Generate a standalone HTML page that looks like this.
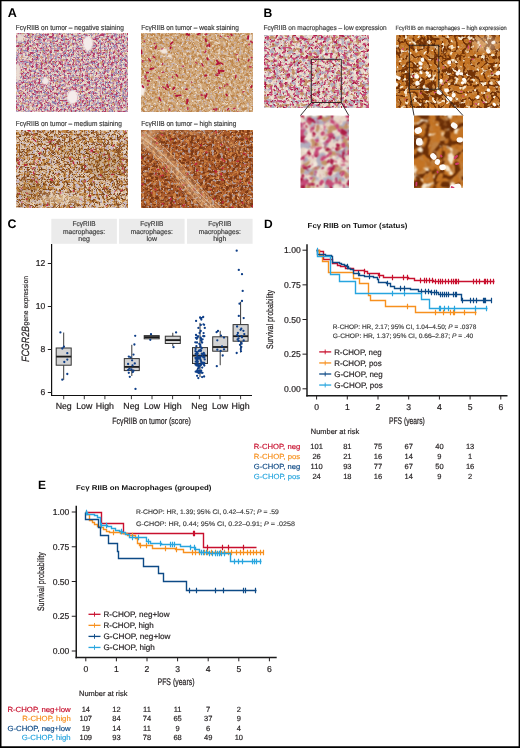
<!DOCTYPE html><html><head><meta charset="utf-8"><style>html,body{margin:0;padding:0;background:#fff}#p{position:relative;width:520px;height:748px;overflow:hidden;background:#fff}svg text{font-family:'Liberation Sans', Arial, sans-serif;text-rendering:geometricPrecision}</style></head><body><div id="p"><svg width="520" height="748" viewBox="0 0 520 748" style="position:absolute;left:0;top:0"><defs><filter id="blur20" x="-5%" y="-5%" width="110%" height="110%"><feGaussianBlur stdDeviation="0.2"/></filter><filter id="blur30" x="-5%" y="-5%" width="110%" height="110%"><feGaussianBlur stdDeviation="0.3"/></filter><filter id="blur35" x="-5%" y="-5%" width="110%" height="110%"><feGaussianBlur stdDeviation="0.35"/></filter><filter id="blur40" x="-5%" y="-5%" width="110%" height="110%"><feGaussianBlur stdDeviation="0.4"/></filter><filter id="blur50" x="-5%" y="-5%" width="110%" height="110%"><feGaussianBlur stdDeviation="0.5"/></filter><filter id="blur60" x="-5%" y="-5%" width="110%" height="110%"><feGaussianBlur stdDeviation="0.6"/></filter><filter id="blur100" x="-5%" y="-5%" width="110%" height="110%"><feGaussianBlur stdDeviation="1.0"/></filter><filter id="blur200" x="-5%" y="-5%" width="110%" height="110%"><feGaussianBlur stdDeviation="2.0"/></filter><filter id="sat70" color-interpolation-filters="sRGB"><feColorMatrix type="saturate" values="0.7"/></filter><filter id="sat75" color-interpolation-filters="sRGB"><feColorMatrix type="saturate" values="0.75"/></filter><filter id="sat80" color-interpolation-filters="sRGB"><feColorMatrix type="saturate" values="0.8"/></filter><filter id="sat85" color-interpolation-filters="sRGB"><feColorMatrix type="saturate" values="0.85"/></filter><filter id="sat90" color-interpolation-filters="sRGB"><feColorMatrix type="saturate" values="0.9"/></filter><filter id="sat95" color-interpolation-filters="sRGB"><feColorMatrix type="saturate" values="0.95"/></filter><filter id="sat100" color-interpolation-filters="sRGB"><feColorMatrix type="saturate" values="1.0"/></filter><filter id="soft" x="-5%" y="-5%" width="110%" height="110%"><feConvolveMatrix order="3" kernelMatrix="1 2 1 2 4 2 1 2 1" divisor="16" edgeMode="none"/></filter><filter id="tf1" filterUnits="userSpaceOnUse" x="16" y="33" width="112" height="79" color-interpolation-filters="sRGB"><feTurbulence type="fractalNoise" baseFrequency="0.4" numOctaves="2" seed="11"/><feColorMatrix type="matrix" values="0 0 0 0 0.667 0 0 0 0 0.627 0 0 0 0 0.784 7 0 0 0 -3.45"/></filter><filter id="tf2" filterUnits="userSpaceOnUse" x="16" y="33" width="112" height="79" color-interpolation-filters="sRGB"><feTurbulence type="fractalNoise" baseFrequency="0.44" numOctaves="2" seed="12"/><feColorMatrix type="matrix" values="0 0 0 0 0.514 0 0 0 0 0.482 0 0 0 0 0.698 7 0 0 0 -3.85"/></filter><filter id="tf3" filterUnits="userSpaceOnUse" x="16" y="33" width="112" height="79" color-interpolation-filters="sRGB"><feTurbulence type="fractalNoise" baseFrequency="0.4" numOctaves="2" seed="13"/><feColorMatrix type="matrix" values="0 0 0 0 0.863 0 0 0 0 0.541 0 0 0 0 0.651 7 0 0 0 -3.8"/></filter><filter id="tf4" filterUnits="userSpaceOnUse" x="16" y="33" width="112" height="79" color-interpolation-filters="sRGB"><feTurbulence type="fractalNoise" baseFrequency="0.44" numOctaves="2" seed="14"/><feColorMatrix type="matrix" values="0 0 0 0 0.769 0 0 0 0 0.204 0 0 0 0 0.400 8 0 0 0 -4.35"/></filter><filter id="tf5" filterUnits="userSpaceOnUse" x="16" y="33" width="112" height="79" color-interpolation-filters="sRGB"><feTurbulence type="fractalNoise" baseFrequency="0.34" numOctaves="2" seed="15"/><feColorMatrix type="matrix" values="0 0 0 0 0.831 0 0 0 0 0.627 0 0 0 0 0.439 7 0 0 0 -4.2"/></filter><filter id="tf6" filterUnits="userSpaceOnUse" x="141" y="33" width="112" height="79" color-interpolation-filters="sRGB"><feTurbulence type="fractalNoise" baseFrequency="0.34" numOctaves="2" seed="21"/><feColorMatrix type="matrix" values="0 0 0 0 0.878 0 0 0 0 0.753 0 0 0 0 0.612 7 0 0 0 -3.5"/></filter><filter id="tf7" filterUnits="userSpaceOnUse" x="141" y="33" width="112" height="79" color-interpolation-filters="sRGB"><feTurbulence type="fractalNoise" baseFrequency="0.38" numOctaves="2" seed="22"/><feColorMatrix type="matrix" values="0 0 0 0 0.761 0 0 0 0 0.518 0 0 0 0 0.267 7 0 0 0 -3.4"/></filter><filter id="tf8" filterUnits="userSpaceOnUse" x="141" y="33" width="112" height="79" color-interpolation-filters="sRGB"><feTurbulence type="fractalNoise" baseFrequency="0.38" numOctaves="2" seed="23"/><feColorMatrix type="matrix" values="0 0 0 0 0.784 0 0 0 0 0.706 0 0 0 0 0.706 7 0 0 0 -4.1"/></filter><filter id="tf9" filterUnits="userSpaceOnUse" x="141" y="33" width="112" height="79" color-interpolation-filters="sRGB"><feTurbulence type="fractalNoise" baseFrequency="0.38" numOctaves="2" seed="24"/><feColorMatrix type="matrix" values="0 0 0 0 0.937 0 0 0 0 0.863 0 0 0 0 0.776 8 0 0 0 -5.0"/></filter><filter id="tf10" filterUnits="userSpaceOnUse" x="16" y="130" width="112" height="78" color-interpolation-filters="sRGB"><feTurbulence type="fractalNoise" baseFrequency="0.36" numOctaves="2" seed="32"/><feColorMatrix type="matrix" values="0 0 0 0 0.761 0 0 0 0 0.714 0 0 0 0 0.800 7 0 0 0 -3.4"/></filter><filter id="tf11" filterUnits="userSpaceOnUse" x="16" y="130" width="112" height="78" color-interpolation-filters="sRGB"><feTurbulence type="fractalNoise" baseFrequency="0.34" numOctaves="2" seed="31"/><feColorMatrix type="matrix" values="0 0 0 0 0.933 0 0 0 0 0.847 0 0 0 0 0.722 7 0 0 0 -3.9"/></filter><filter id="tf12" filterUnits="userSpaceOnUse" x="16" y="130" width="112" height="78" color-interpolation-filters="sRGB"><feTurbulence type="fractalNoise" baseFrequency="0.3" numOctaves="3" seed="33"/><feColorMatrix type="matrix" values="0 0 0 0 0.769 0 0 0 0 0.525 0 0 0 0 0.243 7 0 0 0 -3.5"/></filter><filter id="tf13" filterUnits="userSpaceOnUse" x="16" y="130" width="112" height="78" color-interpolation-filters="sRGB"><feTurbulence type="turbulence" baseFrequency="0.2" numOctaves="2" seed="38"/><feColorMatrix type="matrix" values="0 0 0 0 0.549 0 0 0 0 0.298 0 0 0 0 0.102 -10 0 0 0 1.7"/></filter><filter id="tf14" filterUnits="userSpaceOnUse" x="16" y="130" width="112" height="78" color-interpolation-filters="sRGB"><feTurbulence type="fractalNoise" baseFrequency="0.38" numOctaves="2" seed="36"/><feColorMatrix type="matrix" values="0 0 0 0 0.584 0 0 0 0 0.337 0 0 0 0 0.149 8 0 0 0 -4.9"/></filter><filter id="tf15" filterUnits="userSpaceOnUse" x="16" y="130" width="112" height="78" color-interpolation-filters="sRGB"><feTurbulence type="fractalNoise" baseFrequency="0.42" numOctaves="2" seed="34"/><feColorMatrix type="matrix" values="0 0 0 0 0.424 0 0 0 0 0.227 0 0 0 0 0.063 9 0 0 0 -5.8"/></filter><filter id="tf16" filterUnits="userSpaceOnUse" x="141" y="130" width="112" height="78" color-interpolation-filters="sRGB"><feTurbulence type="fractalNoise" baseFrequency="0.3" numOctaves="2" seed="41"/><feColorMatrix type="matrix" values="0 0 0 0 0.800 0 0 0 0 0.502 0 0 0 0 0.251 7 0 0 0 -3.4"/></filter><filter id="tf17" filterUnits="userSpaceOnUse" x="141" y="130" width="112" height="78" color-interpolation-filters="sRGB"><feTurbulence type="fractalNoise" baseFrequency="0.34" numOctaves="2" seed="42"/><feColorMatrix type="matrix" values="0 0 0 0 0.486 0 0 0 0 0.220 0 0 0 0 0.078 7 0 0 0 -3.3"/></filter><filter id="tf18" filterUnits="userSpaceOnUse" x="141" y="130" width="112" height="78" color-interpolation-filters="sRGB"><feTurbulence type="fractalNoise" baseFrequency="0.34" numOctaves="2" seed="43"/><feColorMatrix type="matrix" values="0 0 0 0 0.690 0 0 0 0 0.604 0 0 0 0 0.596 8 0 0 0 -4.6"/></filter><filter id="tf19" filterUnits="userSpaceOnUse" x="141" y="130" width="112" height="78" color-interpolation-filters="sRGB"><feTurbulence type="fractalNoise" baseFrequency="0.4" numOctaves="2" seed="45"/><feColorMatrix type="matrix" values="0 0 0 0 0.910 0 0 0 0 0.690 0 0 0 0 0.502 8 0 0 0 -5.3"/></filter><filter id="tf20" filterUnits="userSpaceOnUse" x="264" y="35" width="105" height="73" color-interpolation-filters="sRGB"><feTurbulence type="fractalNoise" baseFrequency="0.3" numOctaves="2" seed="51"/><feColorMatrix type="matrix" values="0 0 0 0 0.953 0 0 0 0 0.906 0 0 0 0 0.855 6 0 0 0 -3.0"/></filter><filter id="tf21" filterUnits="userSpaceOnUse" x="264" y="35" width="105" height="73" color-interpolation-filters="sRGB"><feTurbulence type="fractalNoise" baseFrequency="0.24" numOctaves="2" seed="52"/><feColorMatrix type="matrix" values="0 0 0 0 0.698 0 0 0 0 0.682 0 0 0 0 0.761 8 0 0 0 -3.95"/></filter><filter id="tf22" filterUnits="userSpaceOnUse" x="264" y="35" width="105" height="73" color-interpolation-filters="sRGB"><feTurbulence type="fractalNoise" baseFrequency="0.25" numOctaves="2" seed="53"/><feColorMatrix type="matrix" values="0 0 0 0 0.788 0 0 0 0 0.573 0 0 0 0 0.376 8 0 0 0 -4.35"/></filter><filter id="tf23" filterUnits="userSpaceOnUse" x="264" y="35" width="105" height="73" color-interpolation-filters="sRGB"><feTurbulence type="fractalNoise" baseFrequency="0.3" numOctaves="2" seed="54"/><feColorMatrix type="matrix" values="0 0 0 0 0.847 0 0 0 0 0.267 0 0 0 0 0.478 8 0 0 0 -4.45"/></filter><filter id="tf24" filterUnits="userSpaceOnUse" x="264" y="35" width="105" height="73" color-interpolation-filters="sRGB"><feTurbulence type="fractalNoise" baseFrequency="0.34" numOctaves="2" seed="55"/><feColorMatrix type="matrix" values="0 0 0 0 0.753 0 0 0 0 0.086 0 0 0 0 0.290 9 0 0 0 -5.5"/></filter><filter id="tf25" filterUnits="userSpaceOnUse" x="396" y="35" width="104" height="73" color-interpolation-filters="sRGB"><feTurbulence type="fractalNoise" baseFrequency="0.2" numOctaves="2" seed="61"/><feColorMatrix type="matrix" values="0 0 0 0 0.769 0 0 0 0 0.455 0 0 0 0 0.141 7 0 0 0 -2.7"/></filter><filter id="tf26" filterUnits="userSpaceOnUse" x="396" y="35" width="104" height="73" color-interpolation-filters="sRGB"><feTurbulence type="fractalNoise" baseFrequency="0.3" numOctaves="2" seed="66"/><feColorMatrix type="matrix" values="0 0 0 0 0.722 0 0 0 0 0.416 0 0 0 0 0.125 8 0 0 0 -4.6"/></filter><filter id="tf27" filterUnits="userSpaceOnUse" x="396" y="35" width="104" height="73" color-interpolation-filters="sRGB"><feTurbulence type="turbulence" baseFrequency="0.14" numOctaves="2" seed="62"/><feColorMatrix type="matrix" values="0 0 0 0 0.447 0 0 0 0 0.196 0 0 0 0 0.024 -10 0 0 0 2.35"/></filter><filter id="tf28" filterUnits="userSpaceOnUse" x="396" y="35" width="104" height="73" color-interpolation-filters="sRGB"><feTurbulence type="fractalNoise" baseFrequency="0.22" numOctaves="2" seed="63"/><feColorMatrix type="matrix" values="0 0 0 0 0.965 0 0 0 0 0.902 0 0 0 0 0.800 8 0 0 0 -4.8"/></filter><filter id="tf29" filterUnits="userSpaceOnUse" x="300.5" y="115.5" width="48.5" height="72.5" color-interpolation-filters="sRGB"><feTurbulence type="fractalNoise" baseFrequency="0.15" numOctaves="2" seed="71"/><feColorMatrix type="matrix" values="0 0 0 0 0.953 0 0 0 0 0.906 0 0 0 0 0.855 6 0 0 0 -3.0"/><feConvolveMatrix order="3" kernelMatrix="1 2 1 2 4 2 1 2 1" divisor="16" edgeMode="duplicate"/></filter><filter id="tf30" filterUnits="userSpaceOnUse" x="300.5" y="115.5" width="48.5" height="72.5" color-interpolation-filters="sRGB"><feTurbulence type="fractalNoise" baseFrequency="0.12" numOctaves="2" seed="72"/><feColorMatrix type="matrix" values="0 0 0 0 0.698 0 0 0 0 0.682 0 0 0 0 0.761 8 0 0 0 -3.9"/><feConvolveMatrix order="3" kernelMatrix="1 2 1 2 4 2 1 2 1" divisor="16" edgeMode="duplicate"/></filter><filter id="tf31" filterUnits="userSpaceOnUse" x="300.5" y="115.5" width="48.5" height="72.5" color-interpolation-filters="sRGB"><feTurbulence type="fractalNoise" baseFrequency="0.12" numOctaves="2" seed="73"/><feColorMatrix type="matrix" values="0 0 0 0 0.788 0 0 0 0 0.573 0 0 0 0 0.376 8 0 0 0 -4.35"/><feConvolveMatrix order="3" kernelMatrix="1 2 1 2 4 2 1 2 1" divisor="16" edgeMode="duplicate"/></filter><filter id="tf32" filterUnits="userSpaceOnUse" x="300.5" y="115.5" width="48.5" height="72.5" color-interpolation-filters="sRGB"><feTurbulence type="fractalNoise" baseFrequency="0.15" numOctaves="2" seed="74"/><feColorMatrix type="matrix" values="0 0 0 0 0.847 0 0 0 0 0.267 0 0 0 0 0.478 8 0 0 0 -4.35"/><feConvolveMatrix order="3" kernelMatrix="1 2 1 2 4 2 1 2 1" divisor="16" edgeMode="duplicate"/></filter><filter id="tf33" filterUnits="userSpaceOnUse" x="300.5" y="115.5" width="48.5" height="72.5" color-interpolation-filters="sRGB"><feTurbulence type="fractalNoise" baseFrequency="0.17" numOctaves="2" seed="75"/><feColorMatrix type="matrix" values="0 0 0 0 0.745 0 0 0 0 0.086 0 0 0 0 0.282 9 0 0 0 -5.4"/><feConvolveMatrix order="3" kernelMatrix="1 2 1 2 4 2 1 2 1" divisor="16" edgeMode="duplicate"/></filter><filter id="tf34" filterUnits="userSpaceOnUse" x="414" y="115.5" width="49" height="72.5" color-interpolation-filters="sRGB"><feTurbulence type="fractalNoise" baseFrequency="0.1" numOctaves="2" seed="81"/><feColorMatrix type="matrix" values="0 0 0 0 0.769 0 0 0 0 0.455 0 0 0 0 0.141 7 0 0 0 -2.7"/><feConvolveMatrix order="3" kernelMatrix="1 2 1 2 4 2 1 2 1" divisor="16" edgeMode="duplicate"/></filter><filter id="tf35" filterUnits="userSpaceOnUse" x="414" y="115.5" width="49" height="72.5" color-interpolation-filters="sRGB"><feTurbulence type="fractalNoise" baseFrequency="0.15" numOctaves="2" seed="86"/><feColorMatrix type="matrix" values="0 0 0 0 0.722 0 0 0 0 0.416 0 0 0 0 0.125 8 0 0 0 -4.6"/><feConvolveMatrix order="3" kernelMatrix="1 2 1 2 4 2 1 2 1" divisor="16" edgeMode="duplicate"/></filter><filter id="tf36" filterUnits="userSpaceOnUse" x="414" y="115.5" width="49" height="72.5" color-interpolation-filters="sRGB"><feTurbulence type="turbulence" baseFrequency="0.07" numOctaves="2" seed="82"/><feColorMatrix type="matrix" values="0 0 0 0 0.416 0 0 0 0 0.180 0 0 0 0 0.024 -10 0 0 0 2.5"/><feConvolveMatrix order="3" kernelMatrix="1 2 1 2 4 2 1 2 1" divisor="16" edgeMode="duplicate"/></filter><filter id="tf37" filterUnits="userSpaceOnUse" x="414" y="115.5" width="49" height="72.5" color-interpolation-filters="sRGB"><feTurbulence type="fractalNoise" baseFrequency="0.11" numOctaves="2" seed="83"/><feColorMatrix type="matrix" values="0 0 0 0 0.965 0 0 0 0 0.902 0 0 0 0 0.800 8 0 0 0 -4.8"/><feConvolveMatrix order="3" kernelMatrix="1 2 1 2 4 2 1 2 1" divisor="16" edgeMode="duplicate"/></filter></defs><clipPath id="ca1"><rect x="16" y="33" width="112" height="79"/></clipPath><g clip-path="url(#ca1)"><g filter="url(#sat85)"><rect x="16" y="33" width="112" height="79" fill="#efd8c4"/><rect x="16" y="33" width="112" height="79" filter="url(#tf1)"/><rect x="16" y="33" width="112" height="79" filter="url(#tf2)"/><rect x="16" y="33" width="112" height="79" filter="url(#tf3)"/><rect x="16" y="33" width="112" height="79" filter="url(#tf4)"/><rect x="16" y="33" width="112" height="79" filter="url(#tf5)"/><g filter="url(#soft)"><ellipse cx="88" cy="43.5" rx="5" ry="7.5" fill="#f6ecea"/><ellipse cx="45.5" cy="81" rx="3.5" ry="3.5" fill="#f4eae8"/><ellipse cx="72.5" cy="97" rx="5.5" ry="7" fill="#f6ecea"/><ellipse cx="20" cy="38" rx="3" ry="4" fill="#ecdcd0"/><ellipse cx="18" cy="72" rx="2.5" ry="9" fill="#ecdcd0"/></g></g></g><clipPath id="ca2"><rect x="141" y="33" width="112" height="79"/></clipPath><g clip-path="url(#ca2)"><g filter="url(#sat90)"><rect x="141" y="33" width="112" height="79" fill="#d4a572"/><rect x="141" y="33" width="112" height="79" filter="url(#tf6)"/><rect x="141" y="33" width="112" height="79" filter="url(#tf7)"/><rect x="141" y="33" width="112" height="79" filter="url(#tf8)"/><rect x="141" y="33" width="112" height="79" filter="url(#tf9)"/><g filter="url(#soft)"><ellipse cx="142" cy="90" rx="3" ry="6" fill="#f6eee6"/><ellipse cx="164" cy="51" rx="3.5" ry="3" fill="#f2e6dc"/><ellipse cx="250" cy="38" rx="2" ry="3" fill="#f0e4d8"/><ellipse cx="170" cy="56" rx="2" ry="2" fill="#eee0d4"/></g><path d="M148.5 58.7l1.9 2.3M228.7 108.4l-1.5 1.7M189.6 34.6l-3.2 0.1M153.1 56.3l1.9 1.6M216.4 108.9l-2.9 0.4" stroke="#be0f3a" stroke-width="1.3" stroke-linecap="round" fill="none"/><path d="M165.1 87.9l1.0 1.4M159.1 97.6l1.6 2.9M208.1 45.1l-1.2 1.2M201.9 63.7l1.2 2.4M235.9 75.2l-0.2 2.5M220.2 62.8l2.6 1.3M215.6 74.9l2.2 0.7M186.7 33.1l2.2 2.4" stroke="#be0f3a" stroke-width="1.4" stroke-linecap="round" fill="none"/><path d="M249.0 59.9l-0.7 1.0M231.1 34.1l0.8 1.4M205.1 95.5l0.4 2.5" stroke="#be0f3a" stroke-width="1.5" stroke-linecap="round" fill="none"/><path d="M187.0 89.1l-1.1 0.1M206.8 93.9l-0.7 2.4M199.7 33.5l-2.2 0.9M141.3 50.3l0.4 3.2M180.8 95.2l-3.5 0.6M176.2 74.5l1.2 1.7M147.4 80.7l1.9 0.4M156.2 46.0l-0.9 2.4" stroke="#be0f3a" stroke-width="1.6" stroke-linecap="round" fill="none"/><path d="M209.3 44.0l0.2 2.4M251.8 85.9l-0.7 1.5M148.2 72.6l-1.5 0.1M172.6 42.2l-1.9 1.8M187.7 100.7l-0.9 2.7" stroke="#be0f3a" stroke-width="1.7" stroke-linecap="round" fill="none"/><path d="M218.7 70.1l0.5 3.2M170.9 47.3l-0.6 1.0M205.5 39.2l0.7 2.3M226.3 94.5l0.8 1.1M207.3 58.2l0.7 1.4M175.9 95.9l1.3 0.1M174.4 87.5l-1.2 1.8M142.5 85.9l0.9 1.4M219.3 63.4l-2.8 0.9M167.2 84.7l1.0 2.7" stroke="#be0f3a" stroke-width="1.8" stroke-linecap="round" fill="none"/><path d="M206.4 75.2l-1.4 0.6M248.3 36.2l-0.3 2.6M153.5 68.3l-3.2 0.9M216.8 60.5l1.8 2.7" stroke="#be0f3a" stroke-width="1.9" stroke-linecap="round" fill="none"/><path d="M187.3 99.6l-0.0 1.7M220.3 70.7l3.3 0.2" stroke="#be0f3a" stroke-width="2.0" stroke-linecap="round" fill="none"/><path d="M237.5 54.4l-1.9 0.6" stroke="#c82452" stroke-width="1.0" stroke-linecap="round" fill="none"/><path d="M238.3 58.8l0.2 1.8M220.3 35.9l1.0 1.0M227.3 36.1l1.8 1.1M155.0 43.1l-0.8 0.6M237.9 111.8l0.3 0.7M191.8 82.0l-0.1 0.7M195.6 62.3l1.3 0.9M162.7 48.7l-1.3 0.3M244.1 91.6l-1.4 0.7" stroke="#c82452" stroke-width="1.1" stroke-linecap="round" fill="none"/><path d="M226.6 83.9l1.4 1.0M158.7 76.9l1.0 1.9M216.9 108.7l-1.0 1.9M167.2 85.6l-0.2 0.7M218.7 73.2l-1.4 0.6M201.2 94.2l0.5 1.4M182.1 66.0l1.5 0.3M202.9 95.2l-1.8 0.1M174.7 93.5l0.7 0.3M146.5 78.2l-0.5 0.7M172.8 76.7l-0.6 0.9M225.1 85.4l-0.7 1.0" stroke="#c82452" stroke-width="1.2" stroke-linecap="round" fill="none"/><path d="M163.6 72.0l-1.3 0.6M251.1 57.3l0.9 0.6M162.8 63.3l-0.3 1.2M155.4 47.6l0.7 0.3M142.7 60.4l0.2 1.6M144.0 41.0l0.6 0.3M187.8 107.4l-0.0 2.0M169.1 109.0l0.8 1.1M235.2 108.1l-1.8 0.7" stroke="#c82452" stroke-width="1.3" stroke-linecap="round" fill="none"/><path d="M249.6 66.8l1.5 0.2M162.8 86.8l1.1 0.8M145.1 75.7l0.0 1.9M219.5 87.6l0.6 0.8" stroke="#c82452" stroke-width="1.4" stroke-linecap="round" fill="none"/><path d="M206.8 34.2l-1.3 0.1M250.7 41.3l1.7 1.0M147.9 84.5l0.0 0.7M205.8 51.0l-0.9 1.4M248.9 44.1l0.2 0.7" stroke="#c82452" stroke-width="1.5" stroke-linecap="round" fill="none"/></g></g><clipPath id="ca3"><rect x="16" y="130" width="112" height="78"/></clipPath><g clip-path="url(#ca3)"><g filter="url(#sat95)"><rect x="16" y="130" width="112" height="78" fill="#dec8b2"/><rect x="16" y="130" width="112" height="78" filter="url(#tf10)"/><rect x="16" y="130" width="112" height="78" filter="url(#tf11)"/><rect x="16" y="130" width="112" height="78" filter="url(#tf12)"/><rect x="16" y="130" width="112" height="78" filter="url(#tf13)"/><rect x="16" y="130" width="112" height="78" filter="url(#tf14)"/><rect x="16" y="130" width="112" height="78" filter="url(#tf15)"/><path d="M123.0 190.1l-1.9 0.3M84.3 169.3l0.8 0.7M53.6 140.5l-0.7 0.1M38.8 159.4l1.8 0.7" stroke="#c41a46" stroke-width="0.9" stroke-linecap="round" fill="none"/><path d="M107.0 205.2l-0.9 1.0M47.8 205.2l-1.6 0.3M25.8 165.2l-1.2 0.3M108.5 155.2l0.5 1.0M56.0 144.6l-0.9 0.7M44.0 148.3l-0.7 0.3M34.4 167.3l-0.6 0.8M35.6 163.1l1.3 1.0M22.4 187.4l-1.5 1.4" stroke="#c41a46" stroke-width="1.0" stroke-linecap="round" fill="none"/><path d="M60.7 192.4l0.1 1.0M18.7 193.3l0.9 0.2M58.5 148.7l1.5 0.5M73.2 190.3l0.8 1.4M84.7 165.7l0.9 1.6M122.9 167.4l-0.1 2.0M32.2 138.7l-0.4 0.6M104.4 153.7l-0.4 1.5M27.5 193.2l-1.1 0.1M105.0 187.8l-0.1 0.9" stroke="#c41a46" stroke-width="1.1" stroke-linecap="round" fill="none"/><path d="M26.7 164.8l-1.9 0.3M100.1 174.3l1.3 1.6M50.7 141.3l-2.0 0.9M47.6 203.9l-0.2 1.3M34.4 139.9l1.4 1.4M88.9 195.5l1.9 0.3M17.9 159.1l-0.2 1.6M106.7 195.3l-0.2 0.7M33.7 171.8l0.0 2.1" stroke="#c41a46" stroke-width="1.2" stroke-linecap="round" fill="none"/><path d="M50.7 179.4l1.6 1.0M27.9 130.3l2.0 0.7M40.5 153.2l-1.6 0.3M19.1 162.3l-0.3 2.0M69.8 157.5l0.7 2.0M36.1 181.1l1.1 1.8M109.7 158.4l-0.0 0.9M27.2 198.8l-1.1 0.0M113.5 145.3l-0.5 1.0" stroke="#c41a46" stroke-width="1.3" stroke-linecap="round" fill="none"/><path d="M90.9 149.9l1.5 1.5M73.6 162.3l-0.1 1.3M113.3 174.2l-1.6 0.4M70.4 207.9l2.1 0.3" stroke="#c41a46" stroke-width="1.4" stroke-linecap="round" fill="none"/><path d="M22.5 202.1l-0.9 0.1" stroke="#d04474" stroke-width="0.8" stroke-linecap="round" fill="none"/><path d="M101.3 145.3l0.6 0.5M34.3 134.6l-1.2 0.2M120.1 190.4l1.0 0.7M90.8 151.3l-0.6 0.8M117.0 167.2l1.2 0.2M118.3 168.4l0.1 1.3M115.5 190.9l-0.8 1.3" stroke="#d04474" stroke-width="0.9" stroke-linecap="round" fill="none"/><path d="M124.1 172.0l0.1 0.7M20.2 161.0l-0.7 0.6M31.9 167.8l1.1 1.1M56.8 173.5l-0.7 1.0M93.0 181.4l0.5 0.1M85.0 157.5l-1.2 0.5M35.1 160.7l-0.7 0.2" stroke="#d04474" stroke-width="1.0" stroke-linecap="round" fill="none"/><path d="M124.6 138.8l0.7 0.1M30.3 206.3l-0.2 1.4M122.7 159.4l0.8 1.0M108.8 159.5l-0.4 0.4M121.7 163.8l0.7 0.3M33.0 178.7l0.3 1.0M109.5 164.8l-0.1 0.7M93.8 149.0l-0.8 0.2M51.0 178.5l0.2 0.4M81.6 199.1l-1.2 0.5M89.7 187.2l0.1 0.9" stroke="#d04474" stroke-width="1.1" stroke-linecap="round" fill="none"/><path d="M17.3 166.9l-0.1 1.3M85.3 181.0l-0.9 0.6M125.5 131.1l-0.0 1.0M95.4 153.5l1.3 0.0" stroke="#d04474" stroke-width="1.2" stroke-linecap="round" fill="none"/><g filter="url(#blur200)"><ellipse cx="62" cy="199" rx="24" ry="5" fill="#f0dcbc" opacity="0.5"/><ellipse cx="105" cy="165" rx="18" ry="14" fill="#8a4a18" opacity="0.22"/><ellipse cx="32" cy="190" rx="14" ry="12" fill="#8a4a18" opacity="0.2"/><ellipse cx="70" cy="150" rx="12" ry="8" fill="#8a4a18" opacity="0.15"/></g></g></g><clipPath id="ca4"><rect x="141" y="130" width="112" height="78"/></clipPath><g clip-path="url(#ca4)"><g filter="url(#sat100)"><rect x="141" y="130" width="112" height="78" fill="#aa5a2a"/><rect x="141" y="130" width="112" height="78" filter="url(#tf16)"/><rect x="141" y="130" width="112" height="78" filter="url(#tf17)"/><rect x="141" y="130" width="112" height="78" filter="url(#tf18)"/><rect x="141" y="130" width="112" height="78" filter="url(#tf19)"/><path d="M216.8 171.1l-0.9 1.7M246.3 154.1l-0.4 1.4M161.5 130.1l1.9 0.3M170.3 205.3l-0.6 0.4" stroke="#c41c44" stroke-width="0.9" stroke-linecap="round" fill="none"/><path d="M184.9 204.4l-1.2 0.9M166.8 170.9l0.1 1.1M210.3 189.0l0.7 0.8M151.6 192.6l0.4 0.8M245.6 138.3l1.6 0.9M249.9 182.7l-1.3 0.2M171.3 138.8l-0.7 1.4M156.4 173.4l-1.5 1.2M245.0 164.6l-0.6 0.4" stroke="#c41c44" stroke-width="1.0" stroke-linecap="round" fill="none"/><path d="M214.7 198.1l-0.7 1.8M194.3 188.5l-0.3 1.7M221.5 179.2l1.5 1.0M215.6 131.2l1.0 1.7M242.2 202.4l0.8 0.9M187.8 173.3l-0.8 1.0M201.3 193.9l0.7 1.8M228.5 148.6l0.2 1.4M214.7 170.5l1.4 1.3M160.3 175.9l-0.2 1.0M166.8 165.8l-0.1 2.0M238.5 161.1l-1.7 0.1" stroke="#c41c44" stroke-width="1.1" stroke-linecap="round" fill="none"/><path d="M162.0 203.6l1.6 0.4M243.5 153.2l1.2 0.6M161.3 134.4l1.5 0.9M240.4 180.8l-0.3 0.5M223.3 168.0l-1.2 0.3M174.1 201.7l0.1 0.7M141.6 156.8l-0.1 1.3M201.2 145.0l-0.6 0.6M183.0 205.4l0.6 0.7M162.0 175.0l1.0 0.8M155.2 189.0l0.6 0.9" stroke="#c41c44" stroke-width="1.2" stroke-linecap="round" fill="none"/><path d="M196.7 163.4l-1.4 1.0M182.9 184.8l1.2 0.2M143.8 135.1l-0.9 0.4M163.7 168.1l-0.3 0.5M206.0 151.9l1.0 0.6M158.7 169.3l-1.2 0.3M223.0 201.6l-0.7 1.2M224.6 160.8l-0.4 0.7M221.1 144.3l0.6 0.5M221.0 173.3l0.5 1.7" stroke="#c41c44" stroke-width="1.3" stroke-linecap="round" fill="none"/><path d="M170.9 198.3l-0.5 1.6M197.8 170.2l-0.9 0.6M141.9 184.0l1.2 0.7M155.8 138.4l-0.7 0.0M232.1 206.9l1.3 1.3M252.4 205.8l0.5 0.7M221.8 158.5l0.8 1.5M157.2 143.0l-0.8 0.2M179.9 188.6l1.0 0.1" stroke="#c41c44" stroke-width="1.4" stroke-linecap="round" fill="none"/><g filter="url(#blur200)" fill="none" stroke-linecap="round"><path d="M139 135 Q166 156 188 184 Q203 201 218 214" stroke="#e6c49a" stroke-width="11" opacity="0.42"/><path d="M141 130 L162 130 L141 152Z" fill="#d8aa80" stroke="none" opacity="0.45"/><path d="M150 131 Q178 131 205 133 Q222 138 240 150" stroke="#d8b088" stroke-width="4" opacity="0.35"/></g><g fill="none" stroke-linecap="round" opacity="0.55"><path d="M141 137 Q166 155 190 183 Q204 200 218 210" stroke="#f4e0c4" stroke-width="1"/><path d="M143 143 Q167 162 185 187 Q198 204 210 212" stroke="#f0d8b6" stroke-width="0.9"/><path d="M147 134 Q173 152 194 180 Q207 196 221 207" stroke="#eed4ae" stroke-width="0.9"/><path d="M140 141 Q162 160 181 188 Q192 203 203 212" stroke="#ecd0aa" stroke-width="0.8"/><path d="M145 139 Q170 158 188 184 Q201 201 214 211" stroke="#f6e6cc" stroke-width="0.7"/></g></g></g><clipPath id="cb1"><rect x="264" y="35" width="105" height="73"/></clipPath><g clip-path="url(#cb1)"><g filter="url(#sat85)"><rect x="264" y="35" width="105" height="73" fill="#ead8c6"/><rect x="264" y="35" width="105" height="73" filter="url(#tf20)"/><rect x="264" y="35" width="105" height="73" filter="url(#tf21)"/><rect x="264" y="35" width="105" height="73" filter="url(#tf22)"/><rect x="264" y="35" width="105" height="73" filter="url(#tf23)"/><rect x="264" y="35" width="105" height="73" filter="url(#tf24)"/></g></g><clipPath id="cb2"><rect x="396" y="35" width="104" height="73"/></clipPath><g clip-path="url(#cb2)"><g filter="url(#sat100)"><rect x="396" y="35" width="104" height="73" fill="#c88a48"/><rect x="396" y="35" width="104" height="73" filter="url(#tf25)"/><rect x="396" y="35" width="104" height="73" filter="url(#tf26)"/><rect x="396" y="35" width="104" height="73" filter="url(#tf27)"/><rect x="396" y="35" width="104" height="73" filter="url(#tf28)"/><path d="M420.6 71.8l0.7 1.2" stroke="#fefcf8" stroke-width="2.4" stroke-linecap="round" fill="none"/><path d="M420.9 67.5l-0.5 0.5M459.3 70.6l-0.3 0.5" stroke="#fefcf8" stroke-width="2.5" stroke-linecap="round" fill="none"/><path d="M493.9 103.9l0.8 1.0M427.0 89.0l0.7 0.5" stroke="#fefcf8" stroke-width="2.8" stroke-linecap="round" fill="none"/><path d="M396.5 76.8l0.8 0.6M460.5 73.7l1.2 0.1M399.3 77.9l-0.2 0.6M462.9 82.7l-0.6 0.2M426.9 72.5l0.7 0.6" stroke="#fefcf8" stroke-width="2.9" stroke-linecap="round" fill="none"/><path d="M441.2 80.5l-0.4 0.6M488.3 89.9l0.4 0.3M478.1 96.6l-0.7 0.9M494.0 42.2l-1.2 0.5" stroke="#fefcf8" stroke-width="3.1" stroke-linecap="round" fill="none"/><path d="M429.6 75.6l-0.4 0.5M396.3 84.2l-0.0 0.6" stroke="#fefcf8" stroke-width="3.2" stroke-linecap="round" fill="none"/><path d="M463.7 79.4l1.1 0.9M420.0 63.1l1.1 0.9" stroke="#fefcf8" stroke-width="3.3" stroke-linecap="round" fill="none"/><path d="M422.4 59.1l0.2 1.0" stroke="#fefcf8" stroke-width="3.4" stroke-linecap="round" fill="none"/><path d="M457.8 73.2l-0.4 0.6M438.8 91.3l-0.5 0.9" stroke="#fefcf8" stroke-width="3.7" stroke-linecap="round" fill="none"/><path d="M447.1 90.3l-1.1 0.1M449.3 62.1l-0.1 0.6" stroke="#fefcf8" stroke-width="3.8" stroke-linecap="round" fill="none"/><path d="M416.0 76.4l1.1 0.4M450.6 98.8l-0.2 0.6M498.8 72.9l-1.3 0.6" stroke="#fefcf8" stroke-width="3.9" stroke-linecap="round" fill="none"/><path d="M499.8 82.6l0.7 1.2M453.7 94.9l-0.1 0.6M487.9 50.7l0.7 1.0" stroke="#fefcf8" stroke-width="4.0" stroke-linecap="round" fill="none"/><path d="M447.8 98.2l0.5 1.0M417.3 82.9l-0.1 0.8" stroke="#fefcf8" stroke-width="4.1" stroke-linecap="round" fill="none"/><path d="M439.5 92.2l0.5 0.5" stroke="#fefcf8" stroke-width="4.3" stroke-linecap="round" fill="none"/><path d="M410.6 44.8l0.6 0.6M405.8 98.9l-0.9 1.2M487.5 96.3l0.2 1.5M492.6 73.2l-1.2 0.1" stroke="#d44a78" stroke-width="1.0" stroke-linecap="round" fill="none"/><path d="M442.8 83.7l-0.4 0.8" stroke="#d44a78" stroke-width="1.1" stroke-linecap="round" fill="none"/><path d="M475.1 103.6l1.6 0.5M473.5 59.1l-1.4 0.3M446.1 79.8l0.6 1.7M412.5 75.9l1.5 0.2" stroke="#d44a78" stroke-width="1.2" stroke-linecap="round" fill="none"/><path d="M435.5 92.4l-1.1 0.1M462.8 95.9l0.3 0.5M421.2 93.0l-1.3 0.7M461.0 91.7l0.7 0.0" stroke="#d44a78" stroke-width="1.3" stroke-linecap="round" fill="none"/><path d="M437.7 59.4l0.2 1.4M443.1 67.0l0.5 0.8M469.5 41.3l1.0 0.5M468.4 46.3l0.0 1.9M483.0 102.3l1.1 0.2M480.6 45.6l-0.2 0.8" stroke="#d44a78" stroke-width="1.4" stroke-linecap="round" fill="none"/><path d="M403.0 48.5l-0.5 1.0" stroke="#d44a78" stroke-width="1.5" stroke-linecap="round" fill="none"/><ellipse cx="486" cy="44" rx="13" ry="8" fill="#f1dcc4" opacity="0.4" filter="url(#blur200)"/></g></g><clipPath id="cb1i"><rect x="300.5" y="115.5" width="48.5" height="72.5"/></clipPath><g clip-path="url(#cb1i)"><g filter="url(#sat85)"><rect x="300.5" y="115.5" width="48.5" height="72.5" fill="#ead8c6"/><rect x="300.5" y="115.5" width="48.5" height="72.5" filter="url(#tf29)"/><rect x="300.5" y="115.5" width="48.5" height="72.5" filter="url(#tf30)"/><rect x="300.5" y="115.5" width="48.5" height="72.5" filter="url(#tf31)"/><rect x="300.5" y="115.5" width="48.5" height="72.5" filter="url(#tf32)"/><rect x="300.5" y="115.5" width="48.5" height="72.5" filter="url(#tf33)"/></g></g><clipPath id="cb2i"><rect x="414" y="115.5" width="49" height="72.5"/></clipPath><g clip-path="url(#cb2i)"><g filter="url(#sat100)"><rect x="414" y="115.5" width="49" height="72.5" fill="#c08040"/><rect x="414" y="115.5" width="49" height="72.5" filter="url(#tf34)"/><rect x="414" y="115.5" width="49" height="72.5" filter="url(#tf35)"/><rect x="414" y="115.5" width="49" height="72.5" filter="url(#tf36)"/><rect x="414" y="115.5" width="49" height="72.5" filter="url(#tf37)"/><path d="M437.5 161.6l-0.2 0.7M460.4 139.8l-1.3 0.1" stroke="#fefbf8" stroke-width="5.2" stroke-linecap="round" fill="none"/><path d="M453.5 125.1l1.4 1.1" stroke="#fefbf8" stroke-width="5.3" stroke-linecap="round" fill="none"/><path d="M432.9 155.9l1.0 1.2" stroke="#fefbf8" stroke-width="5.4" stroke-linecap="round" fill="none"/><path d="M443.1 167.2l-1.0 0.1" stroke="#fefbf8" stroke-width="5.7" stroke-linecap="round" fill="none"/><path d="M418.8 130.4l-1.0 0.4" stroke="#fefbf8" stroke-width="6.4" stroke-linecap="round" fill="none"/><path d="M419.2 141.3l0.0 1.3" stroke="#fefbf8" stroke-width="6.5" stroke-linecap="round" fill="none"/><path d="M453.1 187.7l-0.1 1.6" stroke="#fefbf8" stroke-width="6.6" stroke-linecap="round" fill="none"/><path d="M457.8 187.0l-1.3 0.2" stroke="#fefbf8" stroke-width="6.7" stroke-linecap="round" fill="none"/><path d="M437.4 171.6l0.3 1.0" stroke="#d03a6a" stroke-width="1.6" stroke-linecap="round" fill="none"/><path d="M440.9 155.4l0.7 1.1M416.5 182.6l-0.2 2.8" stroke="#d03a6a" stroke-width="1.8" stroke-linecap="round" fill="none"/><path d="M451.7 187.1l1.7 0.9" stroke="#d03a6a" stroke-width="2.0" stroke-linecap="round" fill="none"/><path d="M458.1 163.5l-1.9 0.4M456.9 156.1l-2.1 1.9" stroke="#d03a6a" stroke-width="2.2" stroke-linecap="round" fill="none"/></g></g><rect x="311.3" y="59.3" width="30" height="43.2" stroke="#231f20" stroke-width="0.9" fill="none"/><path d="M311.3 102.5L300.5 115.5M341.3 102.5L348.8 115.5" stroke="#231f20" stroke-width="0.9" fill="none"/><rect x="409.3" y="45.2" width="29.5" height="44" stroke="#231f20" stroke-width="0.9" fill="none"/><path d="M409.3 89.2L414 115.5M438.8 89.2L463 115.5" stroke="#231f20" stroke-width="0.9" fill="none"/><rect x="51.3" y="218.8" width="65.6" height="25" fill="#ebebeb"/><text x="84.1" y="226.4" font-size="7" textLength="23" lengthAdjust="spacingAndGlyphs" text-anchor="middle" fill="#3a3a3a" stroke="#3a3a3a" stroke-width="0.162">FcγRIIB</text><text x="84.1" y="233.7" font-size="7" textLength="42" lengthAdjust="spacingAndGlyphs" text-anchor="middle" fill="#3a3a3a" stroke="#3a3a3a" stroke-width="0.162">macrophages:</text><text x="84.1" y="241.4" font-size="7" text-anchor="middle" fill="#3a3a3a" stroke="#3a3a3a" stroke-width="0.162">neg</text><rect x="119" y="218.8" width="65.6" height="25" fill="#ebebeb"/><text x="151.8" y="226.4" font-size="7" textLength="23" lengthAdjust="spacingAndGlyphs" text-anchor="middle" fill="#3a3a3a" stroke="#3a3a3a" stroke-width="0.162">FcγRIIB</text><text x="151.8" y="233.7" font-size="7" textLength="42" lengthAdjust="spacingAndGlyphs" text-anchor="middle" fill="#3a3a3a" stroke="#3a3a3a" stroke-width="0.162">macrophages:</text><text x="151.8" y="241.4" font-size="7" text-anchor="middle" fill="#3a3a3a" stroke="#3a3a3a" stroke-width="0.162">low</text><rect x="187" y="218.8" width="65.6" height="25" fill="#ebebeb"/><text x="219.8" y="226.4" font-size="7" textLength="23" lengthAdjust="spacingAndGlyphs" text-anchor="middle" fill="#3a3a3a" stroke="#3a3a3a" stroke-width="0.162">FcγRIIB</text><text x="219.8" y="233.7" font-size="7" textLength="42" lengthAdjust="spacingAndGlyphs" text-anchor="middle" fill="#3a3a3a" stroke="#3a3a3a" stroke-width="0.162">macrophages:</text><text x="219.8" y="241.4" font-size="7" text-anchor="middle" fill="#3a3a3a" stroke="#3a3a3a" stroke-width="0.162">high</text><line x1="51.6" y1="244" x2="51.6" y2="396.1" stroke="#111" stroke-width="1.2"/><line x1="51.0" y1="395.5" x2="252" y2="395.5" stroke="#111" stroke-width="1.2"/><line x1="47.8" y1="392.5" x2="51.6" y2="392.5" stroke="#222" stroke-width="1.0"/><text x="45.2" y="395.20000000000005" font-size="8.6" text-anchor="end" fill="#231f20" stroke="#231f20" stroke-width="0.199">6</text><line x1="47.8" y1="349.5" x2="51.6" y2="349.5" stroke="#222" stroke-width="1.0"/><text x="45.2" y="352.20000000000005" font-size="8.6" text-anchor="end" fill="#231f20" stroke="#231f20" stroke-width="0.199">8</text><line x1="47.8" y1="306.5" x2="51.6" y2="306.5" stroke="#222" stroke-width="1.0"/><text x="45.2" y="309.20000000000005" font-size="8.6" text-anchor="end" fill="#231f20" stroke="#231f20" stroke-width="0.199">10</text><line x1="47.8" y1="263.5" x2="51.6" y2="263.5" stroke="#222" stroke-width="1.0"/><text x="45.2" y="266.20000000000005" font-size="8.6" text-anchor="end" fill="#231f20" stroke="#231f20" stroke-width="0.199">12</text><line x1="63.699999999999996" y1="395.5" x2="63.699999999999996" y2="399.2" stroke="#231f20" stroke-width="0.9"/><text x="63.699999999999996" y="409.4" font-size="8.8" text-anchor="middle" fill="#231f20" stroke="#231f20" stroke-width="0.204">Neg</text><line x1="84.3" y1="395.5" x2="84.3" y2="399.2" stroke="#231f20" stroke-width="0.9"/><text x="84.3" y="409.4" font-size="8.8" text-anchor="middle" fill="#231f20" stroke="#231f20" stroke-width="0.204">Low</text><line x1="104.9" y1="395.5" x2="104.9" y2="399.2" stroke="#231f20" stroke-width="0.9"/><text x="104.9" y="409.4" font-size="8.8" text-anchor="middle" fill="#231f20" stroke="#231f20" stroke-width="0.204">High</text><line x1="131.4" y1="395.5" x2="131.4" y2="399.2" stroke="#231f20" stroke-width="0.9"/><text x="131.4" y="409.4" font-size="8.8" text-anchor="middle" fill="#231f20" stroke="#231f20" stroke-width="0.204">Neg</text><line x1="152.0" y1="395.5" x2="152.0" y2="399.2" stroke="#231f20" stroke-width="0.9"/><text x="152.0" y="409.4" font-size="8.8" text-anchor="middle" fill="#231f20" stroke="#231f20" stroke-width="0.204">Low</text><line x1="172.60000000000002" y1="395.5" x2="172.60000000000002" y2="399.2" stroke="#231f20" stroke-width="0.9"/><text x="172.60000000000002" y="409.4" font-size="8.8" text-anchor="middle" fill="#231f20" stroke="#231f20" stroke-width="0.204">High</text><line x1="199.4" y1="395.5" x2="199.4" y2="399.2" stroke="#231f20" stroke-width="0.9"/><text x="199.4" y="409.4" font-size="8.8" text-anchor="middle" fill="#231f20" stroke="#231f20" stroke-width="0.204">Neg</text><line x1="220.0" y1="395.5" x2="220.0" y2="399.2" stroke="#231f20" stroke-width="0.9"/><text x="220.0" y="409.4" font-size="8.8" text-anchor="middle" fill="#231f20" stroke="#231f20" stroke-width="0.204">Low</text><line x1="240.60000000000002" y1="395.5" x2="240.60000000000002" y2="399.2" stroke="#231f20" stroke-width="0.9"/><text x="240.60000000000002" y="409.4" font-size="8.8" text-anchor="middle" fill="#231f20" stroke="#231f20" stroke-width="0.204">High</text><text x="112.3" y="424.3" font-size="9.2" textLength="78.6" lengthAdjust="spacingAndGlyphs" fill="#231f20" stroke="#231f20" stroke-width="0.213">FcγRIIB on tumor (score)</text><g transform="translate(29.4 362) rotate(-90)"><text x="0" y="0" font-size="10.6" textLength="36" lengthAdjust="spacingAndGlyphs" font-style="italic" fill="#231f20" stroke="#231f20" stroke-width="0.220">FCGR2B</text><text x="36.6" y="-1.4" font-size="7.2" textLength="49.4" lengthAdjust="spacingAndGlyphs" fill="#231f20" stroke="#231f20" stroke-width="0.167">gene expression</text></g><line x1="63.7" y1="332.545" x2="63.7" y2="348.025" stroke="#3a3a3a" stroke-width="1"/><line x1="63.7" y1="365.225" x2="63.7" y2="379.845" stroke="#3a3a3a" stroke-width="1"/><rect x="56.2" y="348.0" width="15.0" height="17.2" fill="#d3d3d3" stroke="#333" stroke-width="1"/><line x1="56.2" y1="356.6" x2="71.2" y2="356.6" stroke="#1a1a1a" stroke-width="1.8"/><line x1="131.8" y1="344.80000000000007" x2="131.8" y2="358.56000000000006" stroke="#3a3a3a" stroke-width="1"/><line x1="131.8" y1="370.6" x2="131.8" y2="375.975" stroke="#3a3a3a" stroke-width="1"/><rect x="124.30000000000001" y="358.6" width="15.0" height="12.0" fill="#d3d3d3" stroke="#333" stroke-width="1"/><line x1="124.30000000000001" y1="366.9" x2="139.3" y2="366.9" stroke="#1a1a1a" stroke-width="1.8"/><line x1="151.7" y1="335.555" x2="151.7" y2="335.555" stroke="#3a3a3a" stroke-width="1"/><line x1="151.7" y1="338.78000000000003" x2="151.7" y2="338.78000000000003" stroke="#3a3a3a" stroke-width="1"/><rect x="144.2" y="335.6" width="15.0" height="3.2" fill="#d3d3d3" stroke="#333" stroke-width="1"/><line x1="144.2" y1="337.1" x2="159.2" y2="337.1" stroke="#1a1a1a" stroke-width="1.8"/><line x1="172.8" y1="332.76000000000005" x2="172.8" y2="336.20000000000005" stroke="#3a3a3a" stroke-width="1"/><line x1="172.8" y1="343.51000000000005" x2="172.8" y2="346.09000000000003" stroke="#3a3a3a" stroke-width="1"/><rect x="165.3" y="336.2" width="15.0" height="7.3" fill="#d3d3d3" stroke="#333" stroke-width="1"/><line x1="165.3" y1="340.1" x2="180.3" y2="340.1" stroke="#1a1a1a" stroke-width="1.8"/><line x1="200.0" y1="322.87" x2="200.0" y2="347.595" stroke="#3a3a3a" stroke-width="1"/><line x1="200.0" y1="363.505" x2="200.0" y2="377.05" stroke="#3a3a3a" stroke-width="1"/><rect x="192.5" y="347.6" width="15.0" height="15.9" fill="#d3d3d3" stroke="#333" stroke-width="1"/><line x1="192.5" y1="355.6" x2="207.5" y2="355.6" stroke="#1a1a1a" stroke-width="1.8"/><line x1="220.2" y1="330.82500000000005" x2="220.2" y2="336.845" stroke="#3a3a3a" stroke-width="1"/><line x1="220.2" y1="351.25" x2="220.2" y2="365.225" stroke="#3a3a3a" stroke-width="1"/><rect x="212.7" y="336.8" width="15.0" height="14.4" fill="#d3d3d3" stroke="#333" stroke-width="1"/><line x1="212.7" y1="347.0" x2="227.7" y2="347.0" stroke="#1a1a1a" stroke-width="1.8"/><line x1="240.6" y1="301.80000000000007" x2="240.6" y2="324.59000000000003" stroke="#3a3a3a" stroke-width="1"/><line x1="240.6" y1="341.14500000000004" x2="240.6" y2="352.54" stroke="#3a3a3a" stroke-width="1"/><rect x="233.1" y="324.6" width="15.0" height="16.6" fill="#d3d3d3" stroke="#333" stroke-width="1"/><line x1="233.1" y1="336.2" x2="248.1" y2="336.2" stroke="#1a1a1a" stroke-width="1.8"/><path d="M60.4 332.4h0M63.9 346.7h0M62.3 348.5h0M67.3 353.2h0M67.3 359.6h0M64.3 362.0h0M67.3 374.0h0M62.3 379.7h0M135.2 335.8h0M134.4 344.5h0M133.5 354.6h0M128.8 356.6h0M130.6 357.3h0M132.1 360.3h0M128.1 364.0h0M134.8 363.4h0M132.5 365.4h0M129.4 368.7h0M131.5 369.4h0M128.1 370.1h0M133.5 370.7h0M132.8 372.1h0M128.8 372.8h0M129.8 376.8h0M135.5 388.9h0M151.0 334.2h0M150.3 339.8h0M176.1 332.4h0M173.5 347.2h0M216.6 332.2h0M218.0 330.9h0M217.3 340.3h0M221.0 335.6h0M224.0 337.6h0M222.0 346.3h0M217.3 349.7h0M224.0 349.3h0M220.7 351.0h0M222.7 355.5h0M216.8 366.2h0M195.4 351.1h0M197.3 362.7h0M201.7 348.0h0M196.0 334.9h0M195.5 358.0h0M200.1 365.1h0M197.1 375.8h0M200.4 350.8h0M200.9 365.0h0M195.3 342.3h0M201.9 342.6h0M196.7 360.6h0M198.4 327.9h0M196.1 371.6h0M201.0 338.9h0M202.2 342.5h0M204.5 354.4h0M200.5 359.4h0M201.1 340.5h0M200.7 337.6h0M195.6 349.0h0M198.0 364.6h0M197.4 372.3h0M197.9 371.2h0M198.7 351.2h0M197.2 359.7h0M204.2 363.0h0M201.0 350.8h0M202.2 367.6h0M198.8 368.0h0M201.3 319.6h0M201.8 353.7h0M202.6 339.3h0M195.5 364.6h0M197.8 361.4h0M204.3 365.5h0M198.2 336.3h0M199.0 350.6h0M199.6 332.9h0M197.6 363.0h0M197.7 353.6h0M203.8 352.9h0M197.3 358.8h0M200.1 317.5h0M195.7 371.7h0M201.2 370.7h0M199.3 343.8h0M198.9 373.1h0M200.3 317.9h0M203.5 324.3h0M202.1 377.1h0M200.4 349.8h0M201.4 363.0h0M199.4 370.6h0M204.4 357.0h0M197.7 336.4h0M196.9 355.5h0M203.6 333.1h0M201.3 362.0h0M196.7 352.1h0M200.4 346.5h0M200.3 345.0h0M198.3 378.1h0M204.1 376.5h0M203.2 336.1h0M195.8 361.7h0M204.3 336.2h0M199.9 372.0h0M202.5 372.8h0M196.4 346.2h0M200.5 356.3h0M203.6 363.0h0M197.2 358.0h0M202.2 354.3h0M198.2 366.0h0M201.4 318.1h0M200.2 357.5h0M197.4 370.2h0M200.8 360.7h0M197.3 364.5h0M201.3 372.7h0M203.9 364.6h0M195.9 337.8h0M201.6 364.1h0M196.5 365.4h0M200.7 331.0h0M202.7 356.4h0M197.0 342.5h0M199.3 371.4h0M199.7 358.0h0M201.7 348.3h0M196.1 320.9h0M198.5 358.6h0M197.6 337.6h0M199.5 366.6h0M197.9 358.0h0M204.1 363.5h0M203.5 357.4h0M195.7 353.9h0M203.2 317.0h0M204.1 324.8h0M196.8 338.8h0M197.3 356.0h0M195.8 358.7h0M204.7 359.4h0M202.7 363.0h0M199.3 357.0h0M204.8 327.9h0M202.1 353.8h0M198.0 368.4h0M200.8 324.9h0M202.4 354.2h0M236.7 250.7h0M238.8 269.9h0M242.0 274.2h0M242.7 290.9h0M242.0 301.0h0M239.5 303.7h0M238.8 315.9h0M243.7 318.1h0M236.7 353.0h0M241.0 351.2h0M237.1 326.5h0M241.3 328.7h0M240.6 329.8h0M243.4 330.8h0M237.9 333.0h0M244.3 334.1h0M237.2 335.1h0M238.1 335.8h0M241.4 336.2h0M242.0 337.3h0M238.5 338.4h0M237.6 339.4h0M243.7 340.5h0M238.6 340.9h0M241.4 342.6h0M241.6 343.7h0M240.0 344.8h0M241.3 347.0h0M240.8 349.1h0" stroke="#0f3f88" stroke-width="2.3" stroke-linecap="round" fill="none"/><text x="307.6" y="227.7" font-size="7.2" textLength="99.8" lengthAdjust="spacingAndGlyphs" font-weight="bold" fill="#111">Fcγ RIIB on Tumor (status)</text><line x1="307.0" y1="244.2" x2="307.0" y2="396.45" stroke="#1a1a1a" stroke-width="1.5"/><line x1="306.25" y1="395.7" x2="507.5" y2="395.7" stroke="#1a1a1a" stroke-width="1.5"/><line x1="302.5" y1="388.8" x2="307.0" y2="388.8" stroke="#231f20" stroke-width="1"/><text x="300.8" y="391.90000000000003" font-size="8.6" text-anchor="end" fill="#231f20" stroke="#231f20" stroke-width="0.199">0.00</text><line x1="302.5" y1="354.15" x2="307.0" y2="354.15" stroke="#231f20" stroke-width="1"/><text x="300.8" y="357.25" font-size="8.6" text-anchor="end" fill="#231f20" stroke="#231f20" stroke-width="0.199">0.25</text><line x1="302.5" y1="319.5" x2="307.0" y2="319.5" stroke="#231f20" stroke-width="1"/><text x="300.8" y="322.6" font-size="8.6" text-anchor="end" fill="#231f20" stroke="#231f20" stroke-width="0.199">0.50</text><line x1="302.5" y1="284.85" x2="307.0" y2="284.85" stroke="#231f20" stroke-width="1"/><text x="300.8" y="287.95000000000005" font-size="8.6" text-anchor="end" fill="#231f20" stroke="#231f20" stroke-width="0.199">0.75</text><line x1="302.5" y1="250.2" x2="307.0" y2="250.2" stroke="#231f20" stroke-width="1"/><text x="300.8" y="253.29999999999998" font-size="8.6" text-anchor="end" fill="#231f20" stroke="#231f20" stroke-width="0.199">1.00</text><line x1="316.6" y1="395.7" x2="316.6" y2="399.5" stroke="#231f20" stroke-width="1"/><text x="316.6" y="410.09999999999997" font-size="8.6" text-anchor="middle" fill="#231f20" stroke="#231f20" stroke-width="0.199">0</text><line x1="347.3" y1="395.7" x2="347.3" y2="399.5" stroke="#231f20" stroke-width="1"/><text x="347.3" y="410.09999999999997" font-size="8.6" text-anchor="middle" fill="#231f20" stroke="#231f20" stroke-width="0.199">1</text><line x1="378.0" y1="395.7" x2="378.0" y2="399.5" stroke="#231f20" stroke-width="1"/><text x="378.0" y="410.09999999999997" font-size="8.6" text-anchor="middle" fill="#231f20" stroke="#231f20" stroke-width="0.199">2</text><line x1="408.70000000000005" y1="395.7" x2="408.70000000000005" y2="399.5" stroke="#231f20" stroke-width="1"/><text x="408.70000000000005" y="410.09999999999997" font-size="8.6" text-anchor="middle" fill="#231f20" stroke="#231f20" stroke-width="0.199">3</text><line x1="439.40000000000003" y1="395.7" x2="439.40000000000003" y2="399.5" stroke="#231f20" stroke-width="1"/><text x="439.40000000000003" y="410.09999999999997" font-size="8.6" text-anchor="middle" fill="#231f20" stroke="#231f20" stroke-width="0.199">4</text><line x1="470.1" y1="395.7" x2="470.1" y2="399.5" stroke="#231f20" stroke-width="1"/><text x="470.1" y="410.09999999999997" font-size="8.6" text-anchor="middle" fill="#231f20" stroke="#231f20" stroke-width="0.199">5</text><line x1="500.8" y1="395.7" x2="500.8" y2="399.5" stroke="#231f20" stroke-width="1"/><text x="500.8" y="410.09999999999997" font-size="8.6" text-anchor="middle" fill="#231f20" stroke="#231f20" stroke-width="0.199">6</text><g transform="translate(273.2 349) rotate(-90)"><text x="0" y="0" font-size="9.4" textLength="59" lengthAdjust="spacingAndGlyphs" fill="#231f20" stroke="#231f20" stroke-width="0.218">Survival probability</text></g><text x="389" y="424.4" font-size="9.6" textLength="35.8" lengthAdjust="spacingAndGlyphs" fill="#231f20" stroke="#231f20" stroke-width="0.220">PFS (years)</text><path d="M316.5,250.5H319.5V251.5H323.5V259.5H332.5V263.5H337.5V265.5H340.5V266.5H345.5V268.5H353.5V270.5H364.5V271.5H367.5V273.5H378.5V275.5H383.5V277.5H408.5V278.5H414.5V280.5H423.5V280.5H433.5V281.5H494.5" stroke="#c8102e" stroke-width="1.4" fill="none" stroke-linejoin="miter"/><path d="M364.5 268.8v5.4M379.5 272.8v5.4M392.5 274.8v5.4M403.5 274.8v5.4M407.5 274.8v5.4M420.5 277.8v5.4M424.5 277.8v5.4M426.5 277.8v5.4M429.5 277.8v5.4M432.5 277.8v5.4M435.5 278.8v5.4M438.5 278.8v5.4M440.5 278.8v5.4M442.5 278.8v5.4M445.5 278.8v5.4M448.5 278.8v5.4M451.5 278.8v5.4M453.5 278.8v5.4M455.5 278.8v5.4M456.5 278.8v5.4M458.5 278.8v5.4M473.5 278.8v5.4M476.5 278.8v5.4M479.5 278.8v5.4M484.5 278.8v5.4M485.5 278.8v5.4M487.5 278.8v5.4M490.5 278.8v5.4M493.5 278.8v5.4" stroke="#c8102e" stroke-width="1.2" fill="none"/><path d="M316.5,250.5H319.5V255.5H322.5V261.5H328.5V272.5H353.5V278.5H359.5V283.5H368.5V295.5H370.5V300.5H385.5V306.5H415.5V312.5H476.5" stroke="#f7901e" stroke-width="1.4" fill="none" stroke-linejoin="miter"/><path d="M407.5 303.8v5.4M435.5 309.8v5.4M443.5 309.8v5.4M450.5 309.8v5.4M453.5 309.8v5.4M454.5 309.8v5.4M464.5 309.8v5.4M475.5 309.8v5.4" stroke="#f7901e" stroke-width="1.2" fill="none"/><path d="M316.5,250.5H317.5V254.5H325.5V255.5H331.5V256.5H332.5V262.5H339.5V263.5H341.5V264.5H344.5V265.5H346.5V266.5H348.5V268.5H350.5V269.5H353.5V273.5H359.5V275.5H364.5V276.5H373.5V277.5H377.5V279.5H378.5V282.5H386.5V283.5H390.5V286.5H394.5V288.5H410.5V289.5H418.5V291.5H430.5V292.5H438.5V294.5H461.5V300.5H491.5" stroke="#0d4a86" stroke-width="1.4" fill="none" stroke-linejoin="miter"/><path d="M347.5 263.8v5.4M358.5 270.8v5.4M369.5 273.8v5.4M387.5 280.8v5.4M400.5 285.8v5.4M404.5 285.8v5.4M421.5 288.8v5.4M425.5 288.8v5.4M428.5 288.8v5.4M431.5 289.8v5.4M434.5 289.8v5.4M436.5 289.8v5.4M440.5 291.8v5.4M442.5 291.8v5.4M444.5 291.8v5.4M446.5 291.8v5.4M448.5 291.8v5.4M453.5 291.8v5.4M455.5 291.8v5.4M456.5 291.8v5.4M462.5 297.8v5.4M470.5 297.8v5.4M473.5 297.8v5.4M476.5 297.8v5.4M483.5 297.8v5.4M484.5 297.8v5.4M485.5 297.8v5.4M491.5 297.8v5.4" stroke="#0d4a86" stroke-width="1.2" fill="none"/><path d="M316.5,250.5H317.5V256.5H330.5V274.5H339.5V281.5H355.5V293.5H421.5V299.5H429.5V308.5H487.5" stroke="#27a5df" stroke-width="1.4" fill="none" stroke-linejoin="miter"/><path d="M317.5 247.8v5.4M392.5 290.8v5.4M404.5 290.8v5.4M439.5 305.8v5.4M440.5 305.8v5.4M444.5 305.8v5.4M448.5 305.8v5.4M454.5 305.8v5.4M475.5 305.8v5.4M486.5 305.8v5.4" stroke="#27a5df" stroke-width="1.2" fill="none"/><text x="332.8" y="328.5" font-size="6.5" textLength="143.5" lengthAdjust="spacingAndGlyphs" fill="#3a3a3a" stroke="#3a3a3a" stroke-width="0.151">R-CHOP: HR, 2.17; 95% CI, 1.04–4.50; <tspan font-style="italic">P</tspan> = .0378</text><text x="332.8" y="338.0" font-size="6.5" textLength="140.5" lengthAdjust="spacingAndGlyphs" fill="#3a3a3a" stroke="#3a3a3a" stroke-width="0.151">G-CHOP: HR, 1.37; 95% CI, 0.66–2.87; <tspan font-style="italic">P</tspan> = .40</text><line x1="319.2" y1="351.9" x2="331.2" y2="351.9" stroke="#c8102e" stroke-width="1.3"/><line x1="325.2" y1="349.5" x2="325.2" y2="354.29999999999995" stroke="#c8102e" stroke-width="0.9"/><text x="334.2" y="354.7" font-size="8" textLength="47.5" lengthAdjust="spacingAndGlyphs" fill="#231f20" stroke="#231f20" stroke-width="0.185">R-CHOP, neg</text><line x1="319.2" y1="362.95" x2="331.2" y2="362.95" stroke="#f7901e" stroke-width="1.3"/><line x1="325.2" y1="360.55" x2="325.2" y2="365.34999999999997" stroke="#f7901e" stroke-width="0.9"/><text x="334.2" y="365.75" font-size="8" textLength="47.5" lengthAdjust="spacingAndGlyphs" fill="#231f20" stroke="#231f20" stroke-width="0.185">R-CHOP, pos</text><line x1="319.2" y1="374.0" x2="331.2" y2="374.0" stroke="#0d4a86" stroke-width="1.3"/><line x1="325.2" y1="371.6" x2="325.2" y2="376.4" stroke="#0d4a86" stroke-width="0.9"/><text x="334.2" y="376.8" font-size="8" textLength="48.5" lengthAdjust="spacingAndGlyphs" fill="#231f20" stroke="#231f20" stroke-width="0.185">G-CHOP, neg</text><line x1="319.2" y1="385.04999999999995" x2="331.2" y2="385.04999999999995" stroke="#27a5df" stroke-width="1.3"/><line x1="325.2" y1="382.65" x2="325.2" y2="387.44999999999993" stroke="#27a5df" stroke-width="0.9"/><text x="334.2" y="387.84999999999997" font-size="8" textLength="48.5" lengthAdjust="spacingAndGlyphs" fill="#231f20" stroke="#231f20" stroke-width="0.185">G-CHOP, pos</text><text x="310.8" y="434.4" font-size="7.5" textLength="48.4" lengthAdjust="spacingAndGlyphs" fill="#231f20" stroke="#231f20" stroke-width="0.174">Number at risk</text><text x="300.2" y="449.2" font-size="7.5" textLength="46.4" lengthAdjust="spacingAndGlyphs" text-anchor="end" fill="#c8102e" stroke="#c8102e" stroke-width="0.174">R-CHOP, neg</text><text x="316.6" y="449.2" font-size="7.5" text-anchor="middle" fill="#231f20" stroke="#231f20" stroke-width="0.174">101</text><text x="347.3" y="449.2" font-size="7.5" text-anchor="middle" fill="#231f20" stroke="#231f20" stroke-width="0.174">81</text><text x="378.0" y="449.2" font-size="7.5" text-anchor="middle" fill="#231f20" stroke="#231f20" stroke-width="0.174">75</text><text x="408.70000000000005" y="449.2" font-size="7.5" text-anchor="middle" fill="#231f20" stroke="#231f20" stroke-width="0.174">67</text><text x="439.40000000000003" y="449.2" font-size="7.5" text-anchor="middle" fill="#231f20" stroke="#231f20" stroke-width="0.174">40</text><text x="470.1" y="449.2" font-size="7.5" text-anchor="middle" fill="#231f20" stroke="#231f20" stroke-width="0.174">13</text><text x="300.2" y="458.97999999999996" font-size="7.5" textLength="46.4" lengthAdjust="spacingAndGlyphs" text-anchor="end" fill="#f7901e" stroke="#f7901e" stroke-width="0.174">R-CHOP, pos</text><text x="316.6" y="458.97999999999996" font-size="7.5" text-anchor="middle" fill="#231f20" stroke="#231f20" stroke-width="0.174">26</text><text x="347.3" y="458.97999999999996" font-size="7.5" text-anchor="middle" fill="#231f20" stroke="#231f20" stroke-width="0.174">21</text><text x="378.0" y="458.97999999999996" font-size="7.5" text-anchor="middle" fill="#231f20" stroke="#231f20" stroke-width="0.174">16</text><text x="408.70000000000005" y="458.97999999999996" font-size="7.5" text-anchor="middle" fill="#231f20" stroke="#231f20" stroke-width="0.174">14</text><text x="439.40000000000003" y="458.97999999999996" font-size="7.5" text-anchor="middle" fill="#231f20" stroke="#231f20" stroke-width="0.174">9</text><text x="470.1" y="458.97999999999996" font-size="7.5" text-anchor="middle" fill="#231f20" stroke="#231f20" stroke-width="0.174">1</text><text x="300.2" y="468.76" font-size="7.5" textLength="46.4" lengthAdjust="spacingAndGlyphs" text-anchor="end" fill="#0d4a86" stroke="#0d4a86" stroke-width="0.174">G-CHOP, neg</text><text x="316.6" y="468.76" font-size="7.5" text-anchor="middle" fill="#231f20" stroke="#231f20" stroke-width="0.174">110</text><text x="347.3" y="468.76" font-size="7.5" text-anchor="middle" fill="#231f20" stroke="#231f20" stroke-width="0.174">93</text><text x="378.0" y="468.76" font-size="7.5" text-anchor="middle" fill="#231f20" stroke="#231f20" stroke-width="0.174">77</text><text x="408.70000000000005" y="468.76" font-size="7.5" text-anchor="middle" fill="#231f20" stroke="#231f20" stroke-width="0.174">67</text><text x="439.40000000000003" y="468.76" font-size="7.5" text-anchor="middle" fill="#231f20" stroke="#231f20" stroke-width="0.174">50</text><text x="470.1" y="468.76" font-size="7.5" text-anchor="middle" fill="#231f20" stroke="#231f20" stroke-width="0.174">16</text><text x="300.2" y="478.53999999999996" font-size="7.5" textLength="46.4" lengthAdjust="spacingAndGlyphs" text-anchor="end" fill="#27a5df" stroke="#27a5df" stroke-width="0.174">G-CHOP, pos</text><text x="316.6" y="478.53999999999996" font-size="7.5" text-anchor="middle" fill="#231f20" stroke="#231f20" stroke-width="0.174">24</text><text x="347.3" y="478.53999999999996" font-size="7.5" text-anchor="middle" fill="#231f20" stroke="#231f20" stroke-width="0.174">18</text><text x="378.0" y="478.53999999999996" font-size="7.5" text-anchor="middle" fill="#231f20" stroke="#231f20" stroke-width="0.174">16</text><text x="408.70000000000005" y="478.53999999999996" font-size="7.5" text-anchor="middle" fill="#231f20" stroke="#231f20" stroke-width="0.174">14</text><text x="439.40000000000003" y="478.53999999999996" font-size="7.5" text-anchor="middle" fill="#231f20" stroke="#231f20" stroke-width="0.174">9</text><text x="470.1" y="478.53999999999996" font-size="7.5" text-anchor="middle" fill="#231f20" stroke="#231f20" stroke-width="0.174">2</text><text x="76" y="490.2" font-size="7.1" textLength="135.5" lengthAdjust="spacingAndGlyphs" font-weight="bold" fill="#111">Fcγ RIIB on Macrophages (grouped)</text><line x1="76.25" y1="505.7" x2="76.25" y2="658.25" stroke="#1a1a1a" stroke-width="1.5"/><line x1="75.5" y1="657.5" x2="276.7" y2="657.5" stroke="#1a1a1a" stroke-width="1.5"/><line x1="71.75" y1="651.0" x2="76.25" y2="651.0" stroke="#231f20" stroke-width="1"/><text x="69.4" y="654.1" font-size="8.6" text-anchor="end" fill="#231f20" stroke="#231f20" stroke-width="0.199">0.00</text><line x1="71.75" y1="616.25" x2="76.25" y2="616.25" stroke="#231f20" stroke-width="1"/><text x="69.4" y="619.35" font-size="8.6" text-anchor="end" fill="#231f20" stroke="#231f20" stroke-width="0.199">0.25</text><line x1="71.75" y1="581.5" x2="76.25" y2="581.5" stroke="#231f20" stroke-width="1"/><text x="69.4" y="584.6" font-size="8.6" text-anchor="end" fill="#231f20" stroke="#231f20" stroke-width="0.199">0.50</text><line x1="71.75" y1="546.75" x2="76.25" y2="546.75" stroke="#231f20" stroke-width="1"/><text x="69.4" y="549.85" font-size="8.6" text-anchor="end" fill="#231f20" stroke="#231f20" stroke-width="0.199">0.75</text><line x1="71.75" y1="512.0" x2="76.25" y2="512.0" stroke="#231f20" stroke-width="1"/><text x="69.4" y="515.1" font-size="8.6" text-anchor="end" fill="#231f20" stroke="#231f20" stroke-width="0.199">1.00</text><line x1="85.8" y1="657.5" x2="85.8" y2="661.3" stroke="#231f20" stroke-width="1"/><text x="85.8" y="671.9" font-size="8.6" text-anchor="middle" fill="#231f20" stroke="#231f20" stroke-width="0.199">0</text><line x1="116.4" y1="657.5" x2="116.4" y2="661.3" stroke="#231f20" stroke-width="1"/><text x="116.4" y="671.9" font-size="8.6" text-anchor="middle" fill="#231f20" stroke="#231f20" stroke-width="0.199">1</text><line x1="147.0" y1="657.5" x2="147.0" y2="661.3" stroke="#231f20" stroke-width="1"/><text x="147.0" y="671.9" font-size="8.6" text-anchor="middle" fill="#231f20" stroke="#231f20" stroke-width="0.199">2</text><line x1="177.60000000000002" y1="657.5" x2="177.60000000000002" y2="661.3" stroke="#231f20" stroke-width="1"/><text x="177.60000000000002" y="671.9" font-size="8.6" text-anchor="middle" fill="#231f20" stroke="#231f20" stroke-width="0.199">3</text><line x1="208.2" y1="657.5" x2="208.2" y2="661.3" stroke="#231f20" stroke-width="1"/><text x="208.2" y="671.9" font-size="8.6" text-anchor="middle" fill="#231f20" stroke="#231f20" stroke-width="0.199">4</text><line x1="238.8" y1="657.5" x2="238.8" y2="661.3" stroke="#231f20" stroke-width="1"/><text x="238.8" y="671.9" font-size="8.6" text-anchor="middle" fill="#231f20" stroke="#231f20" stroke-width="0.199">5</text><line x1="269.40000000000003" y1="657.5" x2="269.40000000000003" y2="661.3" stroke="#231f20" stroke-width="1"/><text x="269.40000000000003" y="671.9" font-size="8.6" text-anchor="middle" fill="#231f20" stroke="#231f20" stroke-width="0.199">6</text><g transform="translate(44.4 611.1) rotate(-90)"><text x="0" y="0" font-size="9.3" textLength="58.8" lengthAdjust="spacingAndGlyphs" fill="#231f20" stroke="#231f20" stroke-width="0.215">Survival probability</text></g><text x="157.5" y="685.2" font-size="9.6" textLength="37" lengthAdjust="spacingAndGlyphs" fill="#231f20" stroke="#231f20" stroke-width="0.220">PFS (years)</text><path d="M85.5,512.5H101.5V523.5H123.5V533.5H203.5V547.5H256.5" stroke="#c8102e" stroke-width="1.4" fill="none" stroke-linejoin="miter"/><path d="M193.5 530.8v5.4M194.5 530.8v5.4M207.5 544.8v5.4M222.5 544.8v5.4M228.5 544.8v5.4M243.5 544.8v5.4" stroke="#c8102e" stroke-width="1.2" fill="none"/><path d="M85.5,512.5H86.5V514.5H89.5V520.5H92.5V522.5H94.5V524.5H97.5V526.5H100.5V527.5H103.5V529.5H106.5V531.5H109.5V532.5H120.5V533.5H127.5V535.5H135.5V538.5H137.5V543.5H139.5V545.5H152.5V548.5H175.5V549.5H183.5V552.5H263.5" stroke="#f7901e" stroke-width="1.4" fill="none" stroke-linejoin="miter"/><path d="M113.5 529.8v5.4M132.5 532.8v5.4M140.5 542.8v5.4M146.5 542.8v5.4M165.5 545.8v5.4M176.5 546.8v5.4M192.5 549.8v5.4M195.5 549.8v5.4M199.5 549.8v5.4M204.5 549.8v5.4M207.5 549.8v5.4M211.5 549.8v5.4M215.5 549.8v5.4M220.5 549.8v5.4M224.5 549.8v5.4M228.5 549.8v5.4M231.5 549.8v5.4M236.5 549.8v5.4M240.5 549.8v5.4M243.5 549.8v5.4M247.5 549.8v5.4M250.5 549.8v5.4M253.5 549.8v5.4M256.5 549.8v5.4M260.5 549.8v5.4M263.5 549.8v5.4" stroke="#f7901e" stroke-width="1.2" fill="none"/><path d="M85.5,512.5V519.5H98.5V527.5H100.5V535.5H108.5V543.5H117.5V551.5H118.5V558.5H143.5V566.5H158.5V573.5H163.5V581.5H186.5V590.5H256.5" stroke="#0d4a86" stroke-width="1.4" fill="none" stroke-linejoin="miter"/><path d="M189.5 587.8v5.4M196.5 587.8v5.4M215.5 587.8v5.4M223.5 587.8v5.4M243.5 587.8v5.4M245.5 587.8v5.4M255.5 587.8v5.4" stroke="#0d4a86" stroke-width="1.2" fill="none"/><path d="M85.5,512.5H87.5V514.5H90.5V514.5H94.5V515.5H97.5V517.5H100.5V518.5V525.5H107.5V526.5H111.5V528.5H115.5V530.5H119.5V531.5H122.5V532.5H125.5V534.5H129.5V537.5H146.5V541.5H150.5V543.5H161.5V544.5H180.5V546.5H190.5V547.5H195.5V549.5H199.5V552.5H208.5V553.5H230.5V561.5H261.5" stroke="#27a5df" stroke-width="1.4" fill="none" stroke-linejoin="miter"/><path d="M86.5 509.8v5.4M101.5 522.8v5.4M106.5 522.8v5.4M121.5 528.8v5.4M132.5 534.8v5.4M138.5 534.8v5.4M148.5 538.8v5.4M160.5 540.8v5.4M170.5 541.8v5.4M172.5 541.8v5.4M174.5 541.8v5.4M190.5 544.8v5.4M194.5 544.8v5.4M201.5 549.8v5.4M203.5 549.8v5.4M206.5 549.8v5.4M209.5 550.8v5.4M212.5 550.8v5.4M215.5 550.8v5.4M217.5 550.8v5.4M219.5 550.8v5.4M221.5 550.8v5.4M224.5 550.8v5.4M234.5 558.8v5.4M238.5 558.8v5.4M242.5 558.8v5.4M252.5 558.8v5.4M254.5 558.8v5.4M256.5 558.8v5.4M260.5 558.8v5.4" stroke="#27a5df" stroke-width="1.2" fill="none"/><text x="135.9" y="514.3" font-size="6.6" textLength="142.8" lengthAdjust="spacingAndGlyphs" fill="#3a3a3a" stroke="#3a3a3a" stroke-width="0.153">R-CHOP: HR, 1.39; 95% CI, 0.42–4.57; <tspan font-style="italic">P</tspan> = .59</text><text x="135.9" y="526.1" font-size="6.6" textLength="159" lengthAdjust="spacingAndGlyphs" fill="#3a3a3a" stroke="#3a3a3a" stroke-width="0.153">G-CHOP: HR, 0.44; 95% CI, 0.22–0.91; <tspan font-style="italic">P</tspan> = .0258</text><line x1="88.5" y1="614.3" x2="100.5" y2="614.3" stroke="#c8102e" stroke-width="1.3"/><line x1="94.5" y1="611.9" x2="94.5" y2="616.6999999999999" stroke="#c8102e" stroke-width="0.9"/><text x="103.5" y="617.0999999999999" font-size="8" textLength="66" lengthAdjust="spacingAndGlyphs" fill="#231f20" stroke="#231f20" stroke-width="0.185">R-CHOP, neg+low</text><line x1="88.5" y1="625.3499999999999" x2="100.5" y2="625.3499999999999" stroke="#f7901e" stroke-width="1.3"/><line x1="94.5" y1="622.9499999999999" x2="94.5" y2="627.7499999999999" stroke="#f7901e" stroke-width="0.9"/><text x="103.5" y="628.1499999999999" font-size="8" textLength="50.3" lengthAdjust="spacingAndGlyphs" fill="#231f20" stroke="#231f20" stroke-width="0.185">R-CHOP, high</text><line x1="88.5" y1="636.4" x2="100.5" y2="636.4" stroke="#0d4a86" stroke-width="1.3"/><line x1="94.5" y1="634.0" x2="94.5" y2="638.8" stroke="#0d4a86" stroke-width="0.9"/><text x="103.5" y="639.1999999999999" font-size="8" textLength="67" lengthAdjust="spacingAndGlyphs" fill="#231f20" stroke="#231f20" stroke-width="0.185">G-CHOP, neg+low</text><line x1="88.5" y1="647.4499999999999" x2="100.5" y2="647.4499999999999" stroke="#27a5df" stroke-width="1.3"/><line x1="94.5" y1="645.05" x2="94.5" y2="649.8499999999999" stroke="#27a5df" stroke-width="0.9"/><text x="103.5" y="650.2499999999999" font-size="8" textLength="51.3" lengthAdjust="spacingAndGlyphs" fill="#231f20" stroke="#231f20" stroke-width="0.185">G-CHOP, high</text><text x="79" y="696.2" font-size="7.5" textLength="48.4" lengthAdjust="spacingAndGlyphs" fill="#231f20" stroke="#231f20" stroke-width="0.174">Number at risk</text><text x="70.7" y="711.8" font-size="7.5" textLength="63.3" lengthAdjust="spacingAndGlyphs" text-anchor="end" fill="#c8102e" stroke="#c8102e" stroke-width="0.174">R-CHOP, neg+low</text><text x="85.8" y="711.8" font-size="7.5" text-anchor="middle" fill="#231f20" stroke="#231f20" stroke-width="0.174">14</text><text x="116.4" y="711.8" font-size="7.5" text-anchor="middle" fill="#231f20" stroke="#231f20" stroke-width="0.174">12</text><text x="147.0" y="711.8" font-size="7.5" text-anchor="middle" fill="#231f20" stroke="#231f20" stroke-width="0.174">11</text><text x="177.60000000000002" y="711.8" font-size="7.5" text-anchor="middle" fill="#231f20" stroke="#231f20" stroke-width="0.174">11</text><text x="208.2" y="711.8" font-size="7.5" text-anchor="middle" fill="#231f20" stroke="#231f20" stroke-width="0.174">7</text><text x="238.8" y="711.8" font-size="7.5" text-anchor="middle" fill="#231f20" stroke="#231f20" stroke-width="0.174">2</text><text x="70.7" y="721.2199999999999" font-size="7.5" textLength="48.4" lengthAdjust="spacingAndGlyphs" text-anchor="end" fill="#f7901e" stroke="#f7901e" stroke-width="0.174">R-CHOP, high</text><text x="85.8" y="721.2199999999999" font-size="7.5" text-anchor="middle" fill="#231f20" stroke="#231f20" stroke-width="0.174">107</text><text x="116.4" y="721.2199999999999" font-size="7.5" text-anchor="middle" fill="#231f20" stroke="#231f20" stroke-width="0.174">84</text><text x="147.0" y="721.2199999999999" font-size="7.5" text-anchor="middle" fill="#231f20" stroke="#231f20" stroke-width="0.174">74</text><text x="177.60000000000002" y="721.2199999999999" font-size="7.5" text-anchor="middle" fill="#231f20" stroke="#231f20" stroke-width="0.174">65</text><text x="208.2" y="721.2199999999999" font-size="7.5" text-anchor="middle" fill="#231f20" stroke="#231f20" stroke-width="0.174">37</text><text x="238.8" y="721.2199999999999" font-size="7.5" text-anchor="middle" fill="#231f20" stroke="#231f20" stroke-width="0.174">9</text><text x="70.7" y="730.64" font-size="7.5" textLength="63.2" lengthAdjust="spacingAndGlyphs" text-anchor="end" fill="#0d4a86" stroke="#0d4a86" stroke-width="0.174">G-CHOP, neg+low</text><text x="85.8" y="730.64" font-size="7.5" text-anchor="middle" fill="#231f20" stroke="#231f20" stroke-width="0.174">19</text><text x="116.4" y="730.64" font-size="7.5" text-anchor="middle" fill="#231f20" stroke="#231f20" stroke-width="0.174">14</text><text x="147.0" y="730.64" font-size="7.5" text-anchor="middle" fill="#231f20" stroke="#231f20" stroke-width="0.174">11</text><text x="177.60000000000002" y="730.64" font-size="7.5" text-anchor="middle" fill="#231f20" stroke="#231f20" stroke-width="0.174">9</text><text x="208.2" y="730.64" font-size="7.5" text-anchor="middle" fill="#231f20" stroke="#231f20" stroke-width="0.174">6</text><text x="238.8" y="730.64" font-size="7.5" text-anchor="middle" fill="#231f20" stroke="#231f20" stroke-width="0.174">4</text><text x="70.7" y="740.06" font-size="7.5" textLength="49" lengthAdjust="spacingAndGlyphs" text-anchor="end" fill="#27a5df" stroke="#27a5df" stroke-width="0.174">G-CHOP, high</text><text x="85.8" y="740.06" font-size="7.5" text-anchor="middle" fill="#231f20" stroke="#231f20" stroke-width="0.174">109</text><text x="116.4" y="740.06" font-size="7.5" text-anchor="middle" fill="#231f20" stroke="#231f20" stroke-width="0.174">93</text><text x="147.0" y="740.06" font-size="7.5" text-anchor="middle" fill="#231f20" stroke="#231f20" stroke-width="0.174">78</text><text x="177.60000000000002" y="740.06" font-size="7.5" text-anchor="middle" fill="#231f20" stroke="#231f20" stroke-width="0.174">68</text><text x="208.2" y="740.06" font-size="7.5" text-anchor="middle" fill="#231f20" stroke="#231f20" stroke-width="0.174">49</text><text x="238.8" y="740.06" font-size="7.5" text-anchor="middle" fill="#231f20" stroke="#231f20" stroke-width="0.174">10</text><text x="7.7" y="16.75" font-size="12.6" font-weight="bold" fill="#000">A</text><text x="263.4" y="16.6" font-size="12.2" font-weight="bold" fill="#000">B</text><text x="7.4" y="228.0" font-size="12.4" font-weight="bold" fill="#000">C</text><text x="263.9" y="227.6" font-size="12" font-weight="bold" fill="#000">D</text><text x="37.9" y="489.3" font-size="12" font-weight="bold" fill="#000">E</text><text x="15.8" y="29.85" font-size="7.3" textLength="108" lengthAdjust="spacingAndGlyphs" fill="#3a3a3a" stroke="#3a3a3a" stroke-width="0.169">FcγRIIB on tumor – negative staining</text><text x="141.3" y="29.85" font-size="7.3" textLength="97.5" lengthAdjust="spacingAndGlyphs" fill="#3a3a3a" stroke="#3a3a3a" stroke-width="0.169">FcγRIIB on tumor – weak staining</text><text x="15.8" y="125.8" font-size="7.3" textLength="106" lengthAdjust="spacingAndGlyphs" fill="#3a3a3a" stroke="#3a3a3a" stroke-width="0.169">FcγRIIB on tumor – medium staining</text><text x="141.3" y="125.8" font-size="7.3" textLength="95" lengthAdjust="spacingAndGlyphs" fill="#3a3a3a" stroke="#3a3a3a" stroke-width="0.169">FcγRIIB on tumor – high staining</text><text x="263.5" y="29.6" font-size="7" textLength="123.2" lengthAdjust="spacingAndGlyphs" fill="#3a3a3a" stroke="#3a3a3a" stroke-width="0.162">FcγRIIB on macrophages – low expression</text><text x="395.4" y="29.8" font-size="6.2" textLength="111.4" lengthAdjust="spacingAndGlyphs" fill="#3a3a3a" stroke="#3a3a3a" stroke-width="0.144">FcγRIIB on macrophages – high expression</text><path d="M0 0H520V748H0ZM1.5 1.2V746.3H518.6V1.2Z" fill="#000" fill-rule="evenodd"/></svg></div></body></html>
